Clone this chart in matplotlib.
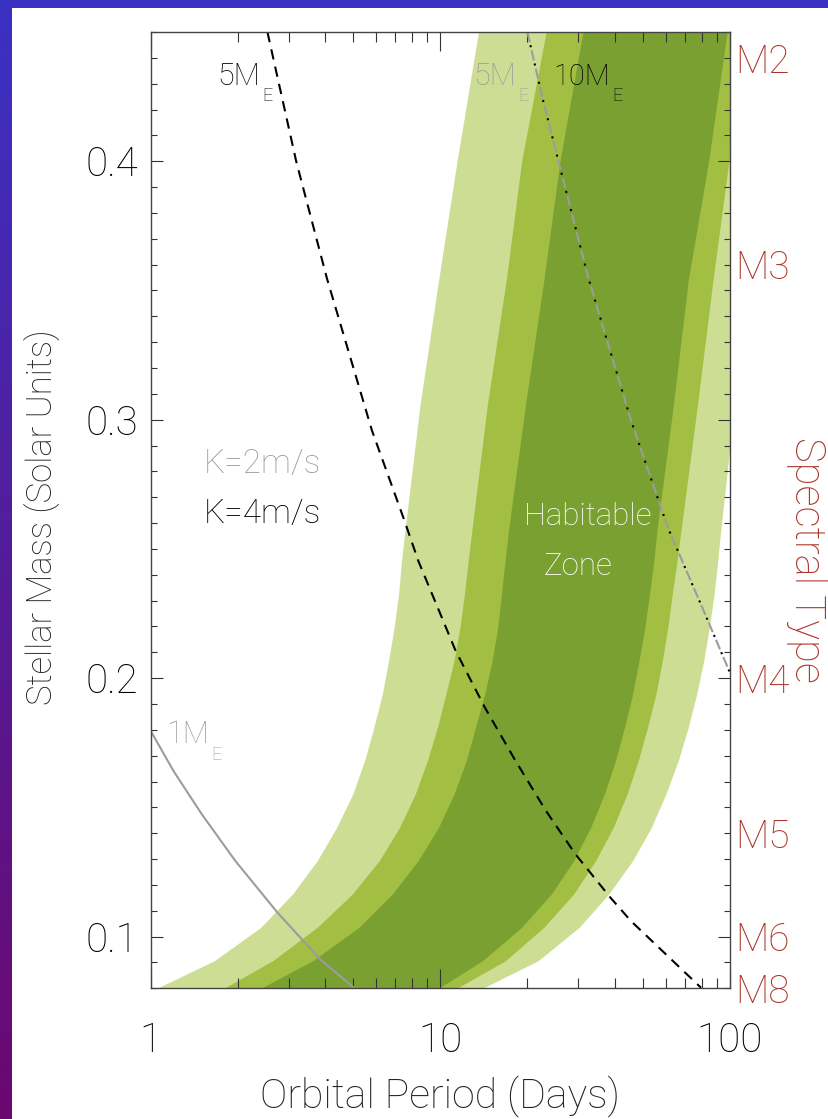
import numpy as np
import matplotlib
matplotlib.use('Agg')
import matplotlib.pyplot as plt
from matplotlib.ticker import MultipleLocator, NullFormatter
from matplotlib.patches import Rectangle
from matplotlib.colors import to_rgb

plt.rcParams['font.family'] = ['Roboto', 'DejaVu Sans']
plt.rcParams['font.weight'] = 'light'

# ---- data (stellar mass in solar units, period in days) ----
hz_mass = [0.45, 0.40, 0.354, 0.306, 0.257, 0.2455, 0.2326, 0.2197, 0.2068, 0.1939,
           0.1810, 0.1681, 0.1552, 0.1423, 0.1294, 0.1165, 0.1036, 0.0907, 0.080]
# light band (outer), medium band, dark band: left and right edges
light_left = [13.55, 11.43, 9.87, 8.52, 7.55, 7.35, 7.18, 6.93, 6.63, 6.31,
              5.90, 5.48, 4.99, 4.39, 3.76, 3.09, 2.40, 1.66, 1.05]
light_right = [140, 122, 114, 104, 93.0, 90.9, 88.3, 85.0, 81.3, 76.9,
               71.9, 66.4, 60.2, 53.6, 46.2, 38.2, 30.2, 21.8, 14.0]
mid_left = [23.2, 19.1, 16.9, 14.55, 12.85, 12.49, 12.12, 11.70, 11.16, 10.46,
            9.78, 9.03, 8.20, 7.24, 6.16, 4.97, 3.76, 2.64, 1.79]
mid_right = [118, 99.3, 87.5, 77.4, 67.8, 65.8, 63.3, 61.1, 58.5, 55.6,
             52.0, 48.3, 44.2, 39.6, 34.4, 28.9, 22.8, 16.8, 11.4]
dark_left = [31.1, 25.9, 22.8, 19.7, 17.2, 16.75, 16.27, 15.80, 15.11, 14.25,
             13.24, 12.30, 11.16, 9.87, 8.39, 6.83, 5.24, 3.63, 2.40]
dark_right = [97.9, 84.5, 71.9, 63.9, 56.0, 54.7, 52.8, 50.9, 48.6, 46.2,
              43.3, 40.3, 36.9, 33.1, 28.9, 24.2, 19.1, 14.0, 9.87]

# K=4m/s, 5 M_E  (black dashed)
k4_5me_mass = [0.45, 0.40, 0.3547, 0.2958, 0.261, 0.2455, 0.2106, 0.1887, 0.168,
               0.1486, 0.1319, 0.1151, 0.106, 0.0802]
k4_5me_period = [2.53, 3.18, 4.06, 5.81, 7.52, 8.39, 11.3, 14.25, 18.2,
                 23.2, 29.3, 38.7, 45.6, 79.6]

# K=2m/s 5 M_E  ==  K=4m/s 10 M_E  (grey dashes + black dots)
k2_5me_mass = [0.45, 0.4249, 0.3978, 0.3547, 0.2997, 0.2583, 0.225, 0.2017]
k2_5me_period = [20.0, 22.5, 25.9, 32.5, 45.6, 61.1, 82.0, 100.5]

# K=2m/s, 1 M_E  (grey solid)
k2_1me_mass = [0.1796, 0.164, 0.1474, 0.1293, 0.1093, 0.0912, 0.080]
k2_1me_period = [1.0, 1.2, 1.50, 1.96, 2.74, 3.85, 5.06]

xticks = [1, 10, 100]
xtick_labels = ['1', '10', '100']
yticks = [0.1, 0.2, 0.3, 0.4]
ytick_labels = ['0.1', '0.2', '0.3', '0.4']
spec_types = ['M2', 'M3', 'M4', 'M5', 'M6', 'M8']
spec_mass = [0.44, 0.36, 0.20, 0.14, 0.10, 0.08]

c_light = '#cddd93'
c_mid = '#a3bf43'
c_dark = '#7aa031'
c_red = '#ab3226'
c_grey = '#9c9c9c'

fig = plt.figure(figsize=(8.29, 11.19), dpi=100)
fig.patch.set_facecolor('white')

# frame: blue bar on top, blue->purple strip on the left
bg = fig.add_axes([0, 0, 1, 1], zorder=-10)
top_c = np.array(to_rgb('#3b31c3'))
bot_c = np.array(to_rgb('#6b0870'))
t = np.linspace(0, 1, 256)[:, None, None]
grad = top_c * (1 - t) + bot_c * t
bg.imshow(grad, extent=(0, 12, 1119, 0), aspect='auto')
bg.add_patch(Rectangle((0, 0), 829, 8, color='#3a30c2', lw=0))
bg.set_xlim(0, 829)
bg.set_ylim(1119, 0)
bg.axis('off')

ax = fig.add_axes([0.1818, 0.1168, 0.6985, 0.8546])
ax.set_xscale('log')

ax.fill_betweenx(hz_mass, light_left, light_right, color=c_light, lw=0)
ax.fill_betweenx(hz_mass, mid_left, mid_right, color=c_mid, lw=0)
ax.fill_betweenx(hz_mass, dark_left, dark_right, color=c_dark, lw=0)

ax.plot(k4_5me_period, k4_5me_mass, color='black', lw=1.5, linestyle=(0, (5, 3.5)))
ax.plot(k2_5me_period, k2_5me_mass, color=c_grey, lw=1.5, linestyle=(0, (5, 4)))
ax.plot(k2_5me_period, k2_5me_mass, color='black', lw=1.5, linestyle=(2.5, (1, 8)))
ax.plot(k2_1me_period, k2_1me_mass, color=c_grey, lw=1.5)

ax.set_xlim(1, 100)
ax.set_ylim(0.08, 0.45)
ax.set_xticks(xticks, labels=xtick_labels)
ax.xaxis.set_minor_formatter(NullFormatter())
ax.set_yticks(yticks, labels=ytick_labels)
ax.yaxis.set_minor_locator(MultipleLocator(0.01))

ax.tick_params(axis='x', which='major', direction='in', length=13.7, width=0.8,
               top=True, bottom=True, pad=24, labelsize=29, color='#333333')
ax.tick_params(axis='x', which='minor', direction='in', length=6.9, width=0.8,
               top=True, bottom=True, color='#333333')
ax.tick_params(axis='y', which='major', direction='in', length=8.4, width=0.8,
               left=True, right=True, pad=8.8, labelsize=29, color='#333333')
ax.tick_params(axis='y', which='minor', direction='in', length=4.2, width=0.8,
               left=True, right=True, color='#333333')
for sp in ax.spines.values():
    sp.set_color('#444444')
    sp.set_linewidth(1.0)


def mass_label(x, y, main, color, size=22, drop=-10):
    tx = ax.text(x, y, main, transform=ax.transAxes, fontsize=size,
                 color=color, ha='left', va='baseline')
    ax.annotate('E', xy=(1, 0), xycoords=tx, xytext=(2, drop),
                textcoords='offset pixels', fontsize=13,
                color=color, ha='left', va='baseline')


mass_label(0.1157, 0.9446, '5M', 'black')
mass_label(0.5578, 0.9446, '5M', c_grey)
mass_label(0.6952, 0.9446, '10M', 'black', size=21)
mass_label(0.0275, 0.2565, '1M', c_grey, drop=-11)

ax.text(0.0913, 0.5389, 'K=2m/s', transform=ax.transAxes, fontsize=24,
        color=c_grey, ha='left', va='baseline')
ax.text(0.0913, 0.4866, 'K=4m/s', transform=ax.transAxes, fontsize=24,
        color='black', ha='left', va='baseline')
ax.text(0.7543, 0.4845, 'Habitable', transform=ax.transAxes, fontsize=22.5,
        color='white', ha='center', va='baseline')
ax.text(0.7379, 0.4322, 'Zone', transform=ax.transAxes, fontsize=22.5,
        color='white', ha='center', va='baseline')

# spectral types on the right
for lab, m in zip(spec_types, spec_mass):
    ax.text(1.009, m, lab, transform=ax.get_yaxis_transform(), fontsize=28,
            color=c_red, ha='left', va='center_baseline', clip_on=False)

fig.text(440 / 829, 1 - 1108 / 1119, 'Orbital Period (Days)', fontsize=29.5,
         color='#222222', ha='center', va='baseline')
fig.text(53 / 829, 1 - 517 / 1119, 'Stellar Mass (Solar Units)', fontsize=25,
         color='#222222', ha='center', va='baseline', rotation=90,
         rotation_mode='anchor')
fig.text(795 / 829, 1 - 560 / 1119, 'Spectral Type', fontsize=30,
         color=c_red, ha='center', va='baseline', rotation=-90,
         rotation_mode='anchor')

fig.savefig('out.png', dpi=100, facecolor='white')
